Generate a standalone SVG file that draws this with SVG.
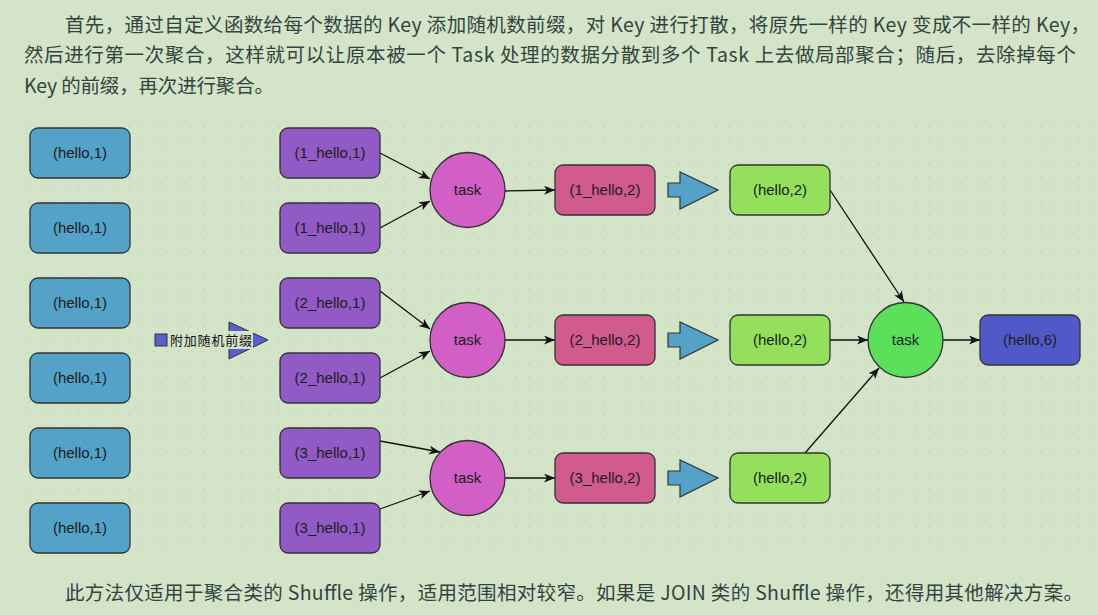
<svg xmlns="http://www.w3.org/2000/svg" width="1098" height="615" viewBox="0 0 1098 615">
<defs>
<pattern id="dots" x="28" y="126" width="12.5" height="12.5" patternUnits="userSpaceOnUse">
<rect x="0" y="0" width="1.4" height="1.4" fill="#b9cbb0"/>
</pattern>
<marker id="arr" markerUnits="userSpaceOnUse" markerWidth="12" markerHeight="10" refX="11" refY="4.5" orient="auto">
<path d="M0,0 L11,4.5 L0,9 L3,4.5 Z" fill="#111"/>
</marker>
<style>
.para{font-family:"Noto Sans CJK SC","Noto Sans",sans-serif;font-size:19.5px;fill:#33443f}
.lbl{font-family:"Liberation Sans",Arial,sans-serif;font-size:15px;fill:#1c1c1c;text-anchor:middle}
.nd{stroke:#333;stroke-width:1.3}
.blue{fill:#55a2c9}
.purple{fill:#925ac5}
.pink{fill:#d05b8c}
.green{fill:#94e05c}
.tk{fill:#d15fc5}
.tkg{fill:#5ce05c}
.fin{fill:#5159c9}
.big{fill:#55a2c9;stroke:#333;stroke-width:1.2}
.con{stroke:#111;stroke-width:1.3;fill:none;marker-end:url(#arr)}
</style>
</defs>
<rect width="1098" height="615" fill="#d3e4c8"/>
<rect x="28" y="126" width="1070" height="429" fill="url(#dots)"/>

<text class="para" x="65" y="32" textLength="1025" lengthAdjust="spacing">首先，通过自定义函数给每个数据的 Key 添加随机数前缀，对 Key 进行打散，将原先一样的 Key 变成不一样的 Key，</text>
<text class="para" x="24" y="62" textLength="1052" lengthAdjust="spacing">然后进行第一次聚合，这样就可以让原本被一个 Task 处理的数据分散到多个 Task 上去做局部聚合；随后，去除掉每个</text>
<text class="para" x="24" y="93" textLength="250" lengthAdjust="spacing">Key 的前缀，再次进行聚合。</text>

<g id="connectors">
<line class="con" x1="380" y1="153" x2="430" y2="179"/>
<line class="con" x1="380" y1="228" x2="430" y2="201"/>
<line class="con" x1="505" y1="191" x2="555" y2="190"/>
<line class="con" x1="380" y1="291" x2="430" y2="329"/>
<line class="con" x1="380" y1="378" x2="430" y2="351"/>
<line class="con" x1="505" y1="340" x2="555" y2="340"/>
<line class="con" x1="380" y1="441" x2="440" y2="452"/>
<line class="con" x1="380" y1="509" x2="430" y2="491"/>
<line class="con" x1="505" y1="478" x2="555" y2="478"/>
<line class="con" x1="830" y1="190" x2="904" y2="302"/>
<line class="con" x1="830" y1="340" x2="868" y2="340"/>
<line class="con" x1="805" y1="453" x2="879" y2="368"/>
<line class="con" x1="943" y1="340" x2="980" y2="340"/>
</g>

<g id="src1"><rect class="nd blue" x="30" y="128" width="100" height="50" rx="8"/><text class="lbl" x="80" y="158">(hello,1)</text></g>
<g id="src2"><rect class="nd blue" x="30" y="203" width="100" height="50" rx="8"/><text class="lbl" x="80" y="233">(hello,1)</text></g>
<g id="src3"><rect class="nd blue" x="30" y="278" width="100" height="50" rx="8"/><text class="lbl" x="80" y="308">(hello,1)</text></g>
<g id="src4"><rect class="nd blue" x="30" y="353" width="100" height="50" rx="8"/><text class="lbl" x="80" y="383">(hello,1)</text></g>
<g id="src5"><rect class="nd blue" x="30" y="428" width="100" height="50" rx="8"/><text class="lbl" x="80" y="458">(hello,1)</text></g>
<g id="src6"><rect class="nd blue" x="30" y="503" width="100" height="50" rx="8"/><text class="lbl" x="80" y="533">(hello,1)</text></g>

<g id="prefix-label">
<rect x="155" y="334" width="12" height="12" fill="#5a5fd0" stroke="#333" stroke-width="1"/>
<polygon points="229,322 268,340 229,359" fill="#5a5fd0" stroke="#333" stroke-width="1"/>
<rect x="168" y="331" width="85" height="18" fill="#d3e4c8"/>
<text x="170" y="345" font-family="'Noto Sans CJK SC','Noto Sans',sans-serif" font-size="13" fill="#111" textLength="82" lengthAdjust="spacing">附加随机前缀</text>
</g>

<g id="pre1"><rect class="nd purple" x="280" y="128" width="100" height="50" rx="8"/><text class="lbl" x="330" y="158">(1_hello,1)</text></g>
<g id="pre2"><rect class="nd purple" x="280" y="203" width="100" height="50" rx="8"/><text class="lbl" x="330" y="233">(1_hello,1)</text></g>
<g id="pre3"><rect class="nd purple" x="280" y="278" width="100" height="50" rx="8"/><text class="lbl" x="330" y="308">(2_hello,1)</text></g>
<g id="pre4"><rect class="nd purple" x="280" y="353" width="100" height="50" rx="8"/><text class="lbl" x="330" y="383">(2_hello,1)</text></g>
<g id="pre5"><rect class="nd purple" x="280" y="428" width="100" height="50" rx="8"/><text class="lbl" x="330" y="458">(3_hello,1)</text></g>
<g id="pre6"><rect class="nd purple" x="280" y="503" width="100" height="50" rx="8"/><text class="lbl" x="330" y="533">(3_hello,1)</text></g>

<g id="task1"><circle class="nd tk" cx="467.5" cy="190" r="37.5"/><text class="lbl" x="467.5" y="195">task</text></g>
<g id="task2"><circle class="nd tk" cx="467.5" cy="340" r="37.5"/><text class="lbl" x="467.5" y="345">task</text></g>
<g id="task3"><circle class="nd tk" cx="467.5" cy="478" r="37.5"/><text class="lbl" x="467.5" y="483">task</text></g>

<g id="agg1"><rect class="nd pink" x="555" y="165" width="100" height="50" rx="8"/><text class="lbl" x="605" y="195">(1_hello,2)</text></g>
<g id="agg2"><rect class="nd pink" x="555" y="315" width="100" height="50" rx="8"/><text class="lbl" x="605" y="345">(2_hello,2)</text></g>
<g id="agg3"><rect class="nd pink" x="555" y="453" width="100" height="50" rx="8"/><text class="lbl" x="605" y="483">(3_hello,2)</text></g>

<g id="bigarrow1"><polygon class="big" points="668,183 680,183 680,172 718,190 680,209 680,197 668,197"/></g>
<g id="bigarrow2"><polygon class="big" points="668,333 680,333 680,322 718,340 680,359 680,347 668,347"/></g>
<g id="bigarrow3"><polygon class="big" points="668,471 680,471 680,460 718,478 680,497 680,485 668,485"/></g>

<g id="strip1"><rect class="nd green" x="730" y="165" width="100" height="50" rx="8"/><text class="lbl" x="780" y="195">(hello,2)</text></g>
<g id="strip2"><rect class="nd green" x="730" y="315" width="100" height="50" rx="8"/><text class="lbl" x="780" y="345">(hello,2)</text></g>
<g id="strip3"><rect class="nd green" x="730" y="453" width="100" height="50" rx="8"/><text class="lbl" x="780" y="483">(hello,2)</text></g>

<g id="task-final"><circle class="nd tkg" cx="905.5" cy="340" r="37.5"/><text class="lbl" x="905.5" y="345">task</text></g>

<g id="result"><rect class="nd fin" x="980" y="315" width="100" height="50" rx="8"/><text class="lbl" x="1030" y="345">(hello,6)</text></g>

<text class="para" x="65" y="600" textLength="1018" lengthAdjust="spacing">此方法仅适用于聚合类的 Shuffle 操作，适用范围相对较窄。如果是 JOIN 类的 Shuffle 操作，还得用其他解决方案。</text>
</svg>
